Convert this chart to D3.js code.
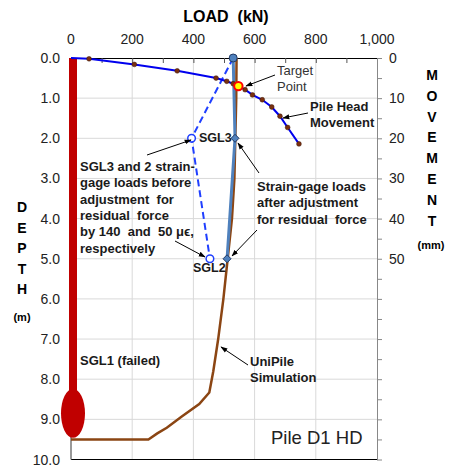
<!doctype html>
<html>
<head>
<meta charset="UTF-8">
<script src="https://cdnjs.cloudflare.com/ajax/libs/d3/7.8.5/d3.min.js"></script>
<style>
  body { margin: 0; background: #fff; }
  text { font-family: "Liberation Sans", Arial, sans-serif; white-space: pre; }
</style>
</head>
<body>
<div id="graphic"></div>
<script>

// chart values
var loadTicks = [0, 200, 400, 600, 800, 1000];
var depthTicks = [0, 1, 2, 3, 4, 5, 6, 7, 8, 9, 10];
var movementTicks = [0, 10, 20, 30, 40, 50];

// pile head load-movement (kN, mm)
var headLoad = [0, 59, 207, 347, 474, 509, 530, 569, 593, 625, 656, 683, 708, 745];
var headMove = [0, 0.2, 1.6, 3.2, 5.0, 5.8, 6.4, 7.9, 9.2, 10.4, 12.2, 14.5, 17.3, 21.4];
var targetLoad = 547, targetMove = 7.0;

// strain-gage loads (depth m, load kN)
var sgDepth = [0, 2, 5];
var sgAdjusted = [530, 536, 510];
var sgRaw = [530, 394, 454];

// UniPile simulation
var uniDepth = [0, 1, 2, 3, 4, 5, 6, 7, 7.8, 8.33, 8.62, 8.93, 9.21, 9.35, 9.5, 9.5];
var uniLoad = [541, 540, 537, 534, 526, 512, 498, 481, 465, 452, 419, 362, 313, 282, 253, 0];

var W = 450, H = 467;
var svg = d3.select("#graphic").append("svg")
  .attr("width", W).attr("height", H);

var x = d3.scaleLinear().domain([0, 1000]).range([71, 377]);
var y = d3.scaleLinear().domain([0, 10]).range([58, 459.5]);
var ym = d3.scaleLinear().domain([0, 100]).range([58, 459.5]);

// arrow marker
svg.append("defs").append("marker")
  .attr("id", "arr").attr("viewBox", "0 0 10 10")
  .attr("refX", 9).attr("refY", 5)
  .attr("markerWidth", 7).attr("markerHeight", 7)
  .attr("orient", "auto")
  .append("path").attr("d", "M0,1.5L10,5L0,8.5Z").attr("fill", "#000");

// grid
svg.append("g").selectAll("line").data(loadTicks.slice(1, -1)).enter().append("line")
  .attr("x1", d => x(d)).attr("x2", d => x(d))
  .attr("y1", y(0)).attr("y2", y(10))
  .attr("stroke", "#d9d9d9");
svg.append("g").selectAll("line").data(depthTicks.slice(1, -1)).enter().append("line")
  .attr("x1", x(0)).attr("x2", x(1000))
  .attr("y1", d => y(d)).attr("y2", d => y(d))
  .attr("stroke", "#d9d9d9");

// top axis
var topAxis = svg.append("g")
  .attr("transform", "translate(0," + y(0) + ")")
  .call(d3.axisTop(x).tickValues(d3.range(0, 1001, 100)).tickSize(-5).tickSizeOuter(0).tickFormat(""));
topAxis.select(".domain").attr("stroke", "#000");
topAxis.selectAll(".tick line").attr("stroke", "#555");
svg.append("g").selectAll("text").data(loadTicks).enter().append("text")
  .attr("x", d => x(d)).attr("y", 44)
  .attr("text-anchor", "middle")
  .style("font-size", "14px").attr("fill", "#222")
  .text(d => d3.format(",")(d));

// bottom line
svg.append("line")
  .attr("x1", x(0)).attr("x2", x(1000)).attr("y1", y(10)).attr("y2", y(10))
  .attr("stroke", "#000");

// left axis
svg.append("line")
  .attr("x1", x(0)).attr("x2", x(0)).attr("y1", y(0)).attr("y2", y(10))
  .attr("stroke", "#777").attr("stroke-width", 1.5);
svg.append("g").selectAll("text").data(depthTicks).enter().append("text")
  .attr("x", 60).attr("y", d => y(d) + 5)
  .attr("text-anchor", "end")
  .style("font-size", "14px").attr("fill", "#222")
  .text(d => d.toFixed(1));

// right axis
var rightAxis = svg.append("g")
  .attr("transform", "translate(" + x(1000) + ",0)")
  .call(d3.axisRight(ym).tickValues(d3.range(0, 101, 5)).tickSize(5).tickSizeOuter(0).tickFormat(""));
rightAxis.select(".domain").attr("stroke", "#888");
rightAxis.selectAll(".tick line").attr("stroke", "#888");
svg.append("g").selectAll("text").data(movementTicks).enter().append("text")
  .attr("x", 389).attr("y", d => ym(d) + 5)
  .style("font-size", "14px").attr("fill", "#222")
  .text(d => d);

// axis titles
svg.append("text").attr("x", 226).attr("y", 22).attr("text-anchor", "middle")
  .style("font-size", "16px").style("font-weight", "bold").text("LOAD  (kN)");
"DEPTH".split("").forEach(function (c, i) {
  svg.append("text").attr("x", 22).attr("y", 212 + i * 20.6).attr("text-anchor", "middle")
    .style("font-size", "14px").style("font-weight", "bold").text(c);
});
svg.append("text").attr("x", 22).attr("y", 321).attr("text-anchor", "middle")
  .style("font-size", "11px").style("font-weight", "bold").text("(m)");
"MOVEMENT".split("").forEach(function (c, i) {
  svg.append("text").attr("x", 432).attr("y", 80 + i * 20.8).attr("text-anchor", "middle")
    .style("font-size", "14px").style("font-weight", "bold").text(c);
});
svg.append("text").attr("x", 431).attr("y", 249).attr("text-anchor", "middle")
  .style("font-size", "11px").style("font-weight", "bold").text("(mm)");

// failed SGL1 pile shaft
svg.append("rect")
  .attr("x", x(0) - 2).attr("y", y(0))
  .attr("width", 8).attr("height", y(8.5) - y(0))
  .attr("fill", "#c00000");
svg.append("ellipse")
  .attr("cx", x(0) + 2).attr("cy", y(8.85))
  .attr("rx", 12).attr("ry", 24.5)
  .attr("fill", "#c00000");

// UniPile simulation
var lineUni = d3.line().x((d, i) => x(uniLoad[i])).y(d => y(d));
svg.append("path").datum(uniDepth)
  .attr("d", lineUni)
  .attr("fill", "none").attr("stroke", "#8b4513").attr("stroke-width", 2.5);

// strain-gage raw (dashed)
var lineRaw = d3.line().x((d, i) => x(sgRaw[i])).y(d => y(d));
svg.append("path").datum(sgDepth)
  .attr("d", lineRaw)
  .attr("fill", "none").attr("stroke", "#1f3fff").attr("stroke-width", 2)
  .attr("stroke-dasharray", "7,4");

// strain-gage adjusted
var lineAdj = d3.line().x((d, i) => x(sgAdjusted[i])).y(d => y(d));
svg.append("path").datum(sgDepth)
  .attr("d", lineAdj)
  .attr("fill", "none").attr("stroke", "#4f81bd").attr("stroke-width", 3);

// pile head movement
var lineHead = d3.line().x(d => x(d)).y((d, i) => ym(headMove[i]));
svg.append("path").datum(headLoad)
  .attr("d", lineHead)
  .attr("fill", "none").attr("stroke", "#0000ee").attr("stroke-width", 2);
svg.append("g").selectAll("circle").data(headLoad.slice(1)).enter().append("circle")
  .attr("cx", d => x(d)).attr("cy", (d, i) => ym(headMove[i + 1]))
  .attr("r", 2.4).attr("fill", "#7a3010").attr("stroke", "#3a1505").attr("stroke-width", 0.5);

// raw gage markers
svg.append("g").selectAll("circle").data(sgDepth.slice(1)).enter().append("circle")
  .attr("cx", (d, i) => x(sgRaw[i + 1])).attr("cy", d => y(d))
  .attr("r", 3.8).attr("fill", "#fff").attr("stroke", "#1f3fff").attr("stroke-width", 1.5);

// adjusted markers
svg.append("circle")
  .attr("cx", x(sgAdjusted[0])).attr("cy", y(sgDepth[0]))
  .attr("r", 4).attr("fill", "#4f81bd").attr("stroke", "#1f3864").attr("stroke-width", 1);
svg.append("g").selectAll("path").data(sgDepth.slice(1)).enter().append("path")
  .attr("transform", (d, i) => "translate(" + x(sgAdjusted[i + 1]) + "," + y(d) + ")")
  .attr("d", "M0,-4L4,0L0,4L-4,0Z")
  .attr("fill", "#4f81bd").attr("stroke", "#1f3864").attr("stroke-width", 1);

// target point
svg.append("circle")
  .attr("cx", x(targetLoad)).attr("cy", ym(targetMove))
  .attr("r", 4.2).attr("fill", "#ffff00").attr("stroke", "#ff0000").attr("stroke-width", 2);

// annotations
function label(lines, px, py, opts) {
  opts = opts || {};
  var t = svg.append("text").attr("x", px).attr("y", py)
    .style("font-size", (opts.size || 13) + "px")
    .style("font-weight", opts.bold === false ? "normal" : "bold")
    .attr("fill", opts.fill || "#1a1a1a")
    .attr("text-anchor", opts.anchor || "start");
  lines.forEach(function (s, i) {
    t.append("tspan").attr("x", px).attr("dy", i === 0 ? 0 : (opts.lh || 16.3)).text(s);
  });
}
function arrow(x1, y1, x2, y2) {
  svg.append("line").attr("x1", x1).attr("y1", y1).attr("x2", x2).attr("y2", y2)
    .attr("stroke", "#000").attr("stroke-width", 1).attr("marker-end", "url(#arr)");
}

label(["Target", "Point"], 277, 75, { bold: false, size: 13, lh: 15.5, fill: "#333" });
arrow(275, 75, 246, 86);

label(["Pile Head", "Movement"], 310, 111, { lh: 16 });
arrow(308, 113, 283, 118);

label(["SGL3"], 199, 142, { size: 12.5 });
arrow(147, 155, 191, 140);

label(["SGL3 and 2 strain-", "gage loads before", "adjustment  for", "residual  force",
       "by 140  and  50 \u03bc\u03f5,", "respectively"], 80, 171);
arrow(175, 241, 205, 257);

label(["SGL2"], 193, 272, { size: 12.5 });

label(["Strain-gage loads", "after adjustment", "for residual  force"], 257, 191);
arrow(259, 173, 238, 143);
arrow(257, 230, 232, 256);

label(["SGL1 (failed)"], 80, 365);

label(["UniPile", "Simulation"], 250, 366, { lh: 16 });
arrow(248, 365, 221, 347);

label(["Pile D1 HD"], 271, 444, { bold: false, size: 18.5, fill: "#222" });

</script>
</body>
</html>
